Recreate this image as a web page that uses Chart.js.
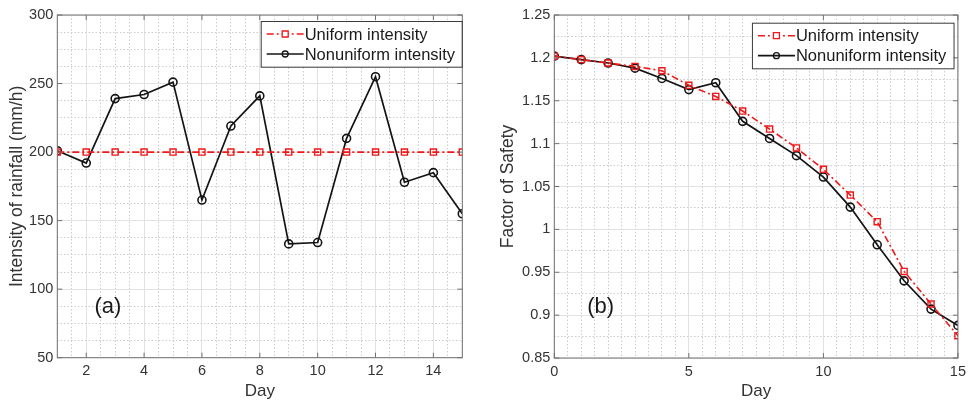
<!DOCTYPE html>
<html>
<head>
<meta charset="utf-8">
<title>Rainfall intensity and factor of safety</title>
<script src="https://cdn.jsdelivr.net/npm/chart.js@4.4.1/dist/chart.umd.min.js"></script>
<style>
  html, body { margin: 0; padding: 0; background: #fff; }
  #wrap { position: relative; width: 971px; height: 405px; }
  .panel { position: absolute; top: 0; height: 405px; }
  #panelA { left: 0; width: 480px; }
  #panelB { left: 485px; width: 486px; }
</style>
</head>
<body>
<div id="wrap">
  <div class="panel" id="panelA"><canvas id="chartA"></canvas></div>
  <div class="panel" id="panelB"><canvas id="chartB"></canvas></div>
</div>
<script>
// (a) intensity of rainfall, days 1-15
const daysA = [1, 2, 3, 4, 5, 6, 7, 8, 9, 10, 11, 12, 13, 14, 15];
const uniformIntensity = [200, 200, 200, 200, 200, 200, 200, 200, 200, 200, 200, 200, 200, 200, 200];
const nonuniformIntensity = [201, 192, 239, 242, 251, 165, 219, 241, 133, 134, 210, 255, 178, 185, 155];

// (b) factor of safety, days 0-15
const daysB = [0, 1, 2, 3, 4, 5, 6, 7, 8, 9, 10, 11, 12, 13, 14, 15];
const uniformFS = [1.202, 1.198, 1.194, 1.190, 1.185, 1.168, 1.155, 1.138, 1.117, 1.095, 1.070, 1.040, 1.009, 0.951, 0.913, 0.876];
const nonuniformFS = [1.202, 1.198, 1.194, 1.188, 1.176, 1.163, 1.171, 1.126, 1.106, 1.086, 1.061, 1.026, 0.982, 0.940, 0.907, 0.888];

const seriesNames = ['Uniform intensity', 'Nonuniform intensity'];

const FONT = "'Liberation Sans', Arial, Helvetica, sans-serif";
const RED = '#f01818';
const BLACK = '#141414';
const TEXT = '#333333';
const AXIS = '#707070';

function isMajor(v, step) {
    const r = v / step;
    return Math.abs(r - Math.round(r)) < 1e-6;
}

function points(xs, ys) {
    return xs.map((x, i) => ({ x: x, y: ys[i] }));
}

function makeDatasets(xs, uni, non) {
    return [
        {
            label: seriesNames[0],
            data: points(xs, uni),
            borderColor: RED,
            borderWidth: 1.6,
            borderDash: [7, 3, 2, 3],
            pointStyle: 'rect',
            pointRadius: 4.3,
            pointBorderWidth: 1.4,
            pointBorderColor: RED,
            pointBackgroundColor: 'rgba(0,0,0,0)',
            fill: false,
            tension: 0
        },
        {
            label: seriesNames[1],
            data: points(xs, non),
            borderColor: BLACK,
            borderWidth: 1.7,
            pointStyle: 'circle',
            pointRadius: 4,
            pointBorderWidth: 1.6,
            pointBorderColor: BLACK,
            pointBackgroundColor: 'rgba(0,0,0,0)',
            fill: false,
            tension: 0
        }
    ];
}

// box, inward ticks, legend and panel tag drawn like a MATLAB axes
const matlabAxes = {
    id: 'matlabAxes',
    afterDatasetsDraw(chart, args, opts) {
        const ctx = chart.ctx;
        const a = chart.chartArea;
        const xs = chart.scales.x, ys = chart.scales.y;
        ctx.save();
        ctx.strokeStyle = AXIS;
        ctx.lineWidth = 1;
        ctx.setLineDash([]);
        ctx.strokeRect(a.left, a.top, a.right - a.left, a.bottom - a.top);
        ctx.beginPath();
        xs.ticks.forEach(t => {
            if (!isMajor(t.value, opts.xMajor)) return;
            const px = xs.getPixelForValue(t.value);
            ctx.moveTo(px, a.bottom); ctx.lineTo(px, a.bottom - 5);
            ctx.moveTo(px, a.top); ctx.lineTo(px, a.top + 5);
        });
        ys.ticks.forEach(t => {
            if (!isMajor(t.value, opts.yMajor)) return;
            const py = ys.getPixelForValue(t.value);
            ctx.moveTo(a.left, py); ctx.lineTo(a.left + 5, py);
            ctx.moveTo(a.right, py); ctx.lineTo(a.right - 5, py);
        });
        ctx.stroke();
        ctx.restore();
    },
    afterDraw(chart, args, opts) {
        const ctx = chart.ctx;
        const a = chart.chartArea;
        ctx.save();

        // panel tag
        ctx.fillStyle = '#1a1a1a';
        ctx.font = '22px ' + FONT;
        ctx.textAlign = 'center';
        ctx.textBaseline = 'middle';
        ctx.fillText(opts.tag, chart.scales.x.getPixelForValue(opts.tagX), chart.scales.y.getPixelForValue(opts.tagY));

        // legend
        const lg = opts.legend;
        const x0 = a.right - lg.right - lg.width;
        const y0 = a.top + lg.top;
        ctx.fillStyle = '#ffffff';
        ctx.fillRect(x0, y0, lg.width, lg.height);
        ctx.strokeStyle = '#3a3a3a';
        ctx.lineWidth = 1;
        ctx.strokeRect(x0 + 0.5, y0 + 0.5, lg.width, lg.height);
        ctx.font = '16.5px ' + FONT;
        ctx.textAlign = 'left';
        chart.data.datasets.forEach((ds, i) => {
            const cy = y0 + 13 + i * 20;
            const lx = x0 + 6;
            const lw = 37;
            ctx.strokeStyle = ds.borderColor;
            ctx.lineWidth = ds.borderWidth;
            ctx.setLineDash(ds.borderDash || []);
            ctx.beginPath();
            ctx.moveTo(lx, cy); ctx.lineTo(lx + lw, cy);
            ctx.stroke();
            ctx.setLineDash([]);
            ctx.lineWidth = 1.3;
            ctx.beginPath();
            if (ds.pointStyle === 'rect') {
                ctx.fillStyle = '#fff';
                ctx.fillRect(lx + lw / 2 - 3, cy - 3, 6, 6);
                ctx.rect(lx + lw / 2 - 3, cy - 3, 6, 6);
            } else {
                ctx.arc(lx + lw / 2, cy, 3, 0, Math.PI * 2);
            }
            ctx.stroke();
            ctx.fillStyle = '#1a1a1a';
            ctx.fillText(ds.label, x0 + 44, cy + 1);
        });
        ctx.restore();
    }
};

function makeScales(c) {
    const gridColor = ctx => (ctx.tick && isMajor(ctx.tick.value, ctx.scale.id === 'x' ? c.xMajor : c.yMajor)) ? '#e2e2e2' : '#cccccc';
    const gridDash = ctx => (ctx.tick && isMajor(ctx.tick.value, ctx.scale.id === 'x' ? c.xMajor : c.yMajor)) ? [] : [1.5, 2];
    return {
        x: {
            type: 'linear',
            min: c.xMin, max: c.xMax,
            afterFit: s => { s.height = c.xHeight; },
            ticks: {
                stepSize: c.xMinor,
                autoSkip: false,
                maxRotation: 0,
                padding: 5,
                color: TEXT,
                font: { family: FONT, size: 14.5 },
                callback: v => isMajor(v, c.xMajor) ? String(v) : ''
            },
            grid: { color: gridColor, lineWidth: 1, drawTicks: false },
            border: { display: false, dash: gridDash },
            title: {
                display: true, text: 'Day', color: TEXT,
                font: { family: FONT, size: 17 },
                padding: { top: 0, bottom: 3 }
            }
        },
        y: {
            type: 'linear',
            min: c.yMin, max: c.yMax,
            afterFit: s => { s.width = c.yWidth; },
            ticks: {
                stepSize: c.yMinor,
                autoSkip: false,
                padding: 4,
                color: TEXT,
                font: { family: FONT, size: 14.5 },
                callback: v => isMajor(v, c.yMajor) ? String(+v.toFixed(2)) : ''
            },
            grid: { color: gridColor, lineWidth: 1, drawTicks: false },
            border: { display: false, dash: gridDash },
            title: {
                display: true, text: c.yTitle, color: TEXT,
                font: { family: FONT, size: 17.5 },
                padding: { top: c.yTitlePad, bottom: 0 }
            }
        }
    };
}

function makeChart(id, datasets, c, axesOpts) {
    return new Chart(document.getElementById(id), {
        type: 'line',
        data: { datasets: datasets },
        options: {
            responsive: true,
            maintainAspectRatio: false,
            animation: false,
            layout: { padding: c.padding },
            plugins: {
                legend: { display: false },
                tooltip: { enabled: false },
                matlabAxes: axesOpts
            },
            scales: makeScales(c)
        },
        plugins: [matlabAxes]
    });
}

makeChart('chartA', makeDatasets(daysA, uniformIntensity, nonuniformIntensity), {
    xMin: 1, xMax: 15, xMinor: 0.5, xMajor: 2,
    yMin: 50, yMax: 300, yMinor: 12.5, yMajor: 50,
    yTitle: 'Intensity of rainfall (mm/h)', yTitlePad: 6.5,
    xHeight: 47.3, yWidth: 57.3,
    padding: { top: 15, right: 17.7, bottom: 0, left: 0 }
}, {
    xMajor: 2, yMajor: 50,
    tag: '(a)', tagX: 2.75, tagY: 87,
    legend: { right: 0.6, top: 6, width: 201, height: 45.7 }
});

makeChart('chartB', makeDatasets(daysB, uniformFS, nonuniformFS), {
    xMin: 0, xMax: 15, xMinor: 0.5, xMajor: 5,
    yMin: 0.85, yMax: 1.25, yMinor: 0.025, yMajor: 0.05,
    yTitle: 'Factor of Safety', yTitlePad: 12.5,
    xHeight: 47, yWidth: 69.3,
    padding: { top: 15, right: 9.3, bottom: 0, left: 0 }
}, {
    xMajor: 5, yMajor: 0.05,
    tag: '(b)', tagX: 1.72, tagY: 0.9095,
    legend: { right: 4.4, top: 7.7, width: 201.6, height: 45.6 }
});
</script>
</body>
</html>
